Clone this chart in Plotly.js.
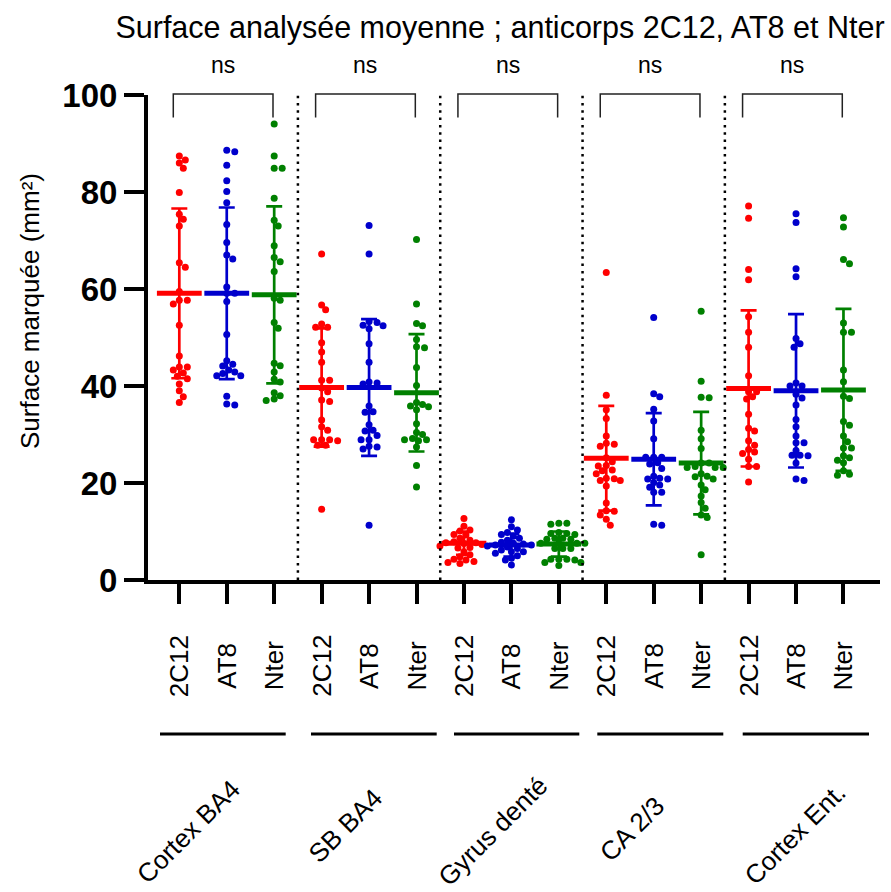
<!DOCTYPE html>
<html><head><meta charset="utf-8">
<script src="https://cdn.plot.ly/plotly-3.0.1.min.js"></script>
<style>html,body{margin:0;padding:0;background:#fff}</style>
</head><body><div id="chart" style="width:891px;height:892px"></div>
<script>
// ---------- DATA ----------
const regions = ['Cortex BA4', 'SB BA4', 'Gyrus denté', 'CA 2/3', 'Cortex Ent.'];
const antibodies = ['2C12', 'AT8', 'Nter'];

// 2C12 (red)
const c2C12_cortexBA4 = [87.4, 86.6, 86.0, 84.9, 79.9, 75.4, 74.4, 73.0, 65.4, 64.5, 59.5, 57.7, 57.7, 56.9, 52.5, 46.2, 43.9, 43.9, 43.3, 42.7, 42.0, 41.5, 40.4, 39.0, 37.8, 36.6];
const c2C12_sbBA4 = [67.2, 56.7, 55.7, 52.8, 52.1, 52.1, 48.9, 47.0, 44.9, 41.2, 41.2, 39.6, 38.8, 37.1, 36.8, 33.0, 31.6, 30.9, 28.9, 28.7, 28.9, 28.9, 27.8, 27.8, 14.6];
const c2C12_gyrus = [12.7, 11.1, 10.3, 10.1, 9.4, 9.3, 8.6, 8.2, 7.9, 7.7, 7.7, 7.5, 7.3, 7.0, 6.6, 6.7, 5.8, 5.2, 4.8, 4.3, 4.1, 3.8, 3.4, 3.6];
const c2C12_ca23 = [63.4, 38.1, 35.1, 33.3, 29.7, 27.6, 28.0, 28.2, 25.2, 24.4, 23.5, 22.7, 22.5, 23.6, 21.9, 20.9, 20.5, 20.5, 21.0, 19.4, 15.9, 14.3, 14.2, 13.4, 12.5, 11.3];
const c2C12_cortexEnt = [77.1, 74.6, 64.0, 61.9, 54.3, 51.1, 48.0, 42.1, 38.8, 38.8, 37.3, 37.8, 34.2, 31.3, 30.7, 28.7, 27.8, 26.9, 26.4, 26.1, 24.9, 23.4, 23.4, 20.2];
// AT8 (blue)
const cAT8_cortexBA4 = [88.6, 88.3, 85.5, 82.3, 80.1, 77.8, 73.3, 69.6, 67.0, 66.2, 60.4, 59.1, 59.1, 57.4, 50.6, 45.2, 44.5, 44.1, 43.3, 42.9, 42.6, 42.1, 42.1, 37.9, 36.3, 36.1];
const cAT8_sbBA4 = [73.1, 67.2, 53.3, 53.1, 52.5, 52.4, 51.8, 48.7, 44.9, 40.6, 40.4, 40.8, 35.9, 34.6, 34.7, 32.0, 30.7, 30.9, 29.8, 28.9, 28.9, 27.0, 27.4, 27.6, 11.3];
const cAT8_gyrus = [12.4, 11.0, 10.3, 9.8, 9.4, 9.0, 8.6, 8.2, 7.8, 7.6, 7.4, 7.2, 7.2, 7.0, 6.8, 6.5, 6.2, 5.8, 5.5, 5.0, 4.5, 4.1, 3.1, 5.8];
const cAT8_ca23 = [54.1, 38.4, 37.8, 35.2, 32.8, 29.1, 25.3, 25.3, 25.3, 24.2, 23.9, 23.0, 21.4, 21.0, 20.8, 20.8, 20.1, 19.6, 19.1, 18.1, 18.1, 11.5, 11.3];
const cAT8_cortexEnt = [75.5, 73.7, 64.2, 62.5, 49.8, 48.7, 48.0, 40.6, 40.0, 40.0, 38.3, 37.5, 36.1, 33.1, 31.6, 29.7, 28.3, 28.3, 26.7, 25.7, 25.7, 25.6, 24.1, 20.5, 20.8];
// Nter (green)
const cNter_cortexBA4 = [94.0, 87.4, 84.9, 84.9, 78.7, 74.2, 73.0, 68.9, 66.5, 65.6, 63.6, 58.1, 57.7, 53.1, 51.9, 44.7, 44.2, 42.9, 41.4, 40.8, 38.6, 38.0, 37.3, 37.0];
const cNter_sbBA4 = [70.2, 56.9, 52.9, 52.4, 49.6, 48.1, 47.9, 43.8, 40.1, 35.9, 36.2, 35.7, 36.6, 35.1, 32.2, 30.0, 30.4, 28.7, 29.2, 28.9, 28.9, 27.4, 23.6, 19.2];
const cNter_gyrus = [11.7, 11.7, 11.5, 9.8, 9.6, 9.6, 9.4, 8.6, 8.4, 8.6, 8.4, 7.6, 7.6, 7.6, 7.6, 6.5, 6.5, 6.5, 4.3, 4.1, 4.3, 4.3, 3.0, 3.6, 3.6];
const cNter_ca23 = [55.4, 41.0, 37.7, 37.6, 30.9, 29.1, 27.1, 24.1, 24.1, 23.4, 23.2, 23.2, 23.2, 21.4, 20.8, 21.9, 21.3, 19.6, 18.6, 17.3, 16.0, 14.8, 13.4, 12.9, 5.2];
const cNter_cortexEnt = [74.7, 72.8, 66.1, 65.2, 53.0, 51.1, 51.1, 43.3, 40.9, 37.9, 37.4, 32.7, 31.9, 29.7, 28.5, 27.2, 27.2, 25.6, 25.2, 24.7, 24.2, 21.6, 21.8, 22.5];

// mean and SD
const mean2C12 = [59.1, 39.7, 7.6, 25.1, 39.5];
const sd2C12   = [17.5, 12.2, 2.4, 10.8, 16.1];
const meanAT8  = [59.1, 39.7, 7.2, 24.9, 39.0];
const sdAT8    = [17.7, 14.1, 2.35, 9.5, 15.8];
const meanNter = [58.8, 38.6, 7.4, 24.1, 39.2];
const sdNter   = [18.25, 12.1, 2.6, 10.55, 16.7];

const significance = ['ns', 'ns', 'ns', 'ns', 'ns'];
const chartTitle = 'Surface analysée moyenne ; anticorps 2C12, AT8 et Nter';
const yTitle = 'Surface marquée (mm²)';
const yTicks = [0, 20, 40, 60, 80, 100];

// ---------- LAYOUT / BUILD ----------
const FONT = 'Liberation Sans, Arial, Helvetica, sans-serif';
const W = 891, H = 892;
const M = {l: 148, r: 11, t: 95, b: 312};
const XR = [-0.66, 14.77];
const plotW = W - M.l - M.r, plotH = H - M.t - M.b;
const KX = plotW / (XR[1] - XR[0]);
const KY = plotH / 100;
const pyToPaper = py => (H - M.b - py) / plotH;

const series = [
  {name: '2C12', color: '#ff0000', cols: [c2C12_cortexBA4, c2C12_sbBA4, c2C12_gyrus, c2C12_ca23, c2C12_cortexEnt], mean: mean2C12, sd: sd2C12},
  {name: 'AT8', color: '#0000cc', cols: [cAT8_cortexBA4, cAT8_sbBA4, cAT8_gyrus, cAT8_ca23, cAT8_cortexEnt], mean: meanAT8, sd: sdAT8},
  {name: 'Nter', color: '#008000', cols: [cNter_cortexBA4, cNter_sbBA4, cNter_gyrus, cNter_ca23, cNter_cortexEnt], mean: meanNter, sd: sdNter}
];

// simple deterministic beeswarm (pixel space)
function swarm(vals, center) {
  const sorted = vals.slice().sort((a, b) => b - a);
  const placed = [];
  const minD = 6.2, step = 2;
  sorted.forEach(v => {
    const py = v * KY;
    for (let k = 0; k < 80; k++) {
      const off = (k === 0) ? 0 : (k % 2 === 1 ? 1 : -1) * Math.ceil(k / 2) * step;
      const ok = placed.every(p => Math.hypot(p.px - off, p.py - py) >= minD);
      if (ok) { placed.push({px: off, py: py, v: v}); break; }
    }
  });
  return {x: placed.map(p => center + p.px / KX), y: placed.map(p => p.v)};
}

const traces = [];
series.forEach((s, a) => {
  const xs = [], ys = [];
  s.cols.forEach((vals, r) => {
    const sw = swarm(vals, r * 3 + a);
    xs.push(...sw.x); ys.push(...sw.y);
  });
  traces.push({type: 'scatter', mode: 'markers', x: xs, y: ys, name: s.name, showlegend: false,
    marker: {color: s.color, size: 7}, hoverinfo: 'y', cliponaxis: false});
  traces.push({type: 'scatter', mode: 'markers', x: regions.map((_, r) => r * 3 + a), y: s.mean, showlegend: false,
    marker: {symbol: 'line-ew', size: 32, color: s.color, line: {width: 5, color: s.color}},
    error_y: {type: 'data', array: s.sd, visible: true, color: s.color, thickness: 2.7, width: 8},
    cliponaxis: false});
});

const shapes = [];
const annotations = [];
// dotted separators
[2.5, 5.5, 8.5, 11.5].forEach(x => shapes.push({type: 'line', xref: 'x', yref: 'paper', x0: x, x1: x, y0: 0, y1: pyToPaper(92),
  line: {color: '#000', width: 2.5, dash: '2.5px,4.8px'}}));
// brackets and ns
regions.forEach((g, r) => {
  const xa = r * 3 - 0.127, xb = r * 3 + 2 - 0.025;
  const yt = pyToPaper(94), yb = pyToPaper(117.5);
  shapes.push({type: 'path', xref: 'x', yref: 'paper', path: `M ${xa},${yb} L ${xa},${yt} L ${xb},${yt} L ${xb},${yb}`,
    line: {color: '#222', width: 1.5}});
  annotations.push({xref: 'x', yref: 'paper', x: (xa + xb) / 2, y: pyToPaper(65), text: significance[r], showarrow: false,
    font: {family: FONT, size: 23, color: '#000'}, xanchor: 'center', yanchor: 'middle'});
});
// antibody labels (rotated)
regions.forEach((g, r) => antibodies.forEach((ab, a) => {
  annotations.push({xref: 'x', yref: 'paper', x: r * 3 + a, y: pyToPaper(666), text: ab, showarrow: false, textangle: -90,
    font: {family: FONT, size: 26, color: '#000'}, xanchor: 'center', yanchor: 'middle'});
}));
// group underlines
const underPx = [[160, 285.7], [311, 436.7], [454, 579.3], [597.3, 723.3], [742.7, 869]];
underPx.forEach(([a, b]) => shapes.push({type: 'line', xref: 'paper', yref: 'paper', x0: (a - M.l) / plotW, x1: (b - M.l) / plotW,
  y0: pyToPaper(734), y1: pyToPaper(734), line: {color: '#000', width: 3}}));
// group labels (45°)
const groupCenters = [[188, 832], [345, 826], [493, 831], [632, 829], [795, 834]];
regions.forEach((g, r) => annotations.push({xref: 'paper', yref: 'paper', x: (groupCenters[r][0] - M.l) / plotW, y: pyToPaper(groupCenters[r][1]),
  text: g, showarrow: false, textangle: -45, font: {family: FONT, size: 26, color: '#000'}, xanchor: 'center', yanchor: 'middle',
  borderpad: 0}));
// y axis title
annotations.push({xref: 'paper', yref: 'paper', x: (30 - M.l) / plotW, y: pyToPaper(311), text: yTitle, showarrow: false, textangle: -90,
  font: {family: FONT, size: 26, color: '#000'}, xanchor: 'center', yanchor: 'middle'});

const layout = {
  width: W, height: H, margin: M, paper_bgcolor: '#fff', plot_bgcolor: '#fff', showlegend: false,
  title: {text: chartTitle, font: {family: FONT, size: 30.5, color: '#000'}, xref: 'container', yref: 'container',
    x: 500 / W, y: 1 - 27 / H, xanchor: 'center', yanchor: 'middle'},
  xaxis: {range: XR, showgrid: false, zeroline: false, showline: true, linecolor: '#000', linewidth: 4,
    tickmode: 'array', tickvals: [...Array(15).keys()], ticktext: Array(15).fill(''), ticks: 'outside', ticklen: 20, tickwidth: 4, tickcolor: '#000'},
  yaxis: {range: [0, 100], showgrid: false, zeroline: false, showline: true, linecolor: '#000', linewidth: 4,
    tickmode: 'array', tickvals: yTicks, ticks: 'outside', ticklen: 20, tickwidth: 4, tickcolor: '#000',
    tickfont: {family: FONT, size: 33, color: '#000', weight: 'bold'}},
  shapes: shapes, annotations: annotations
};

Plotly.newPlot('chart', traces, layout, {displayModeBar: false, staticPlot: true});
</script></body></html>
